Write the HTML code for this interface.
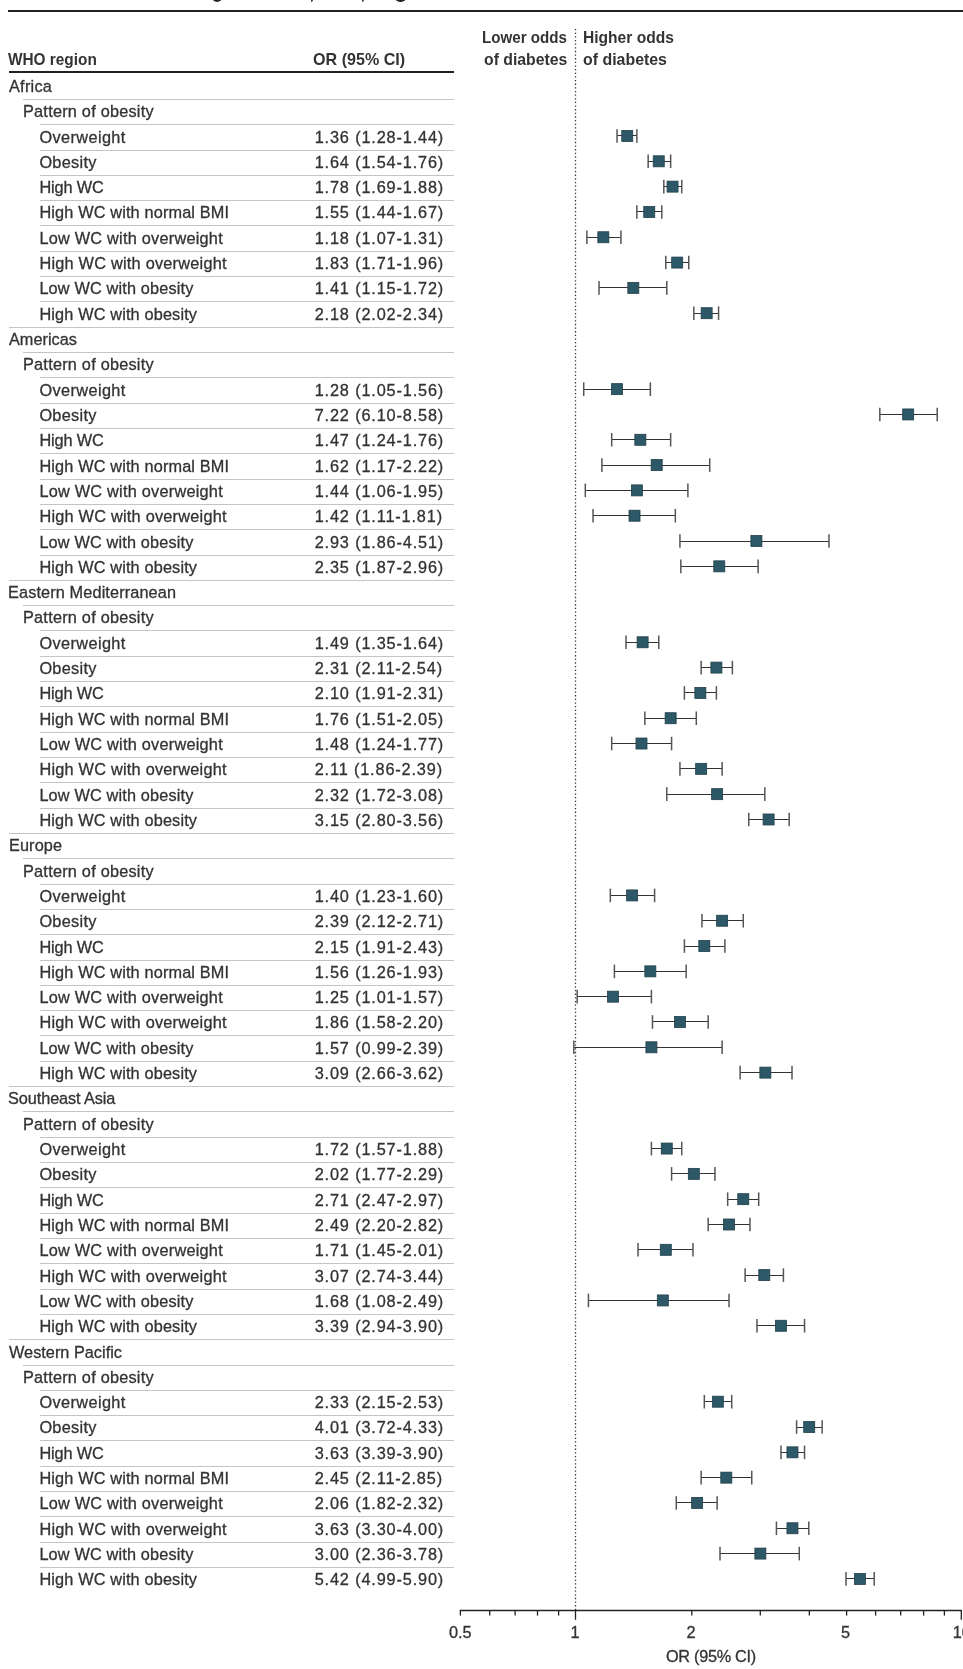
<!DOCTYPE html>
<html><head><meta charset="utf-8"><style>
html,body{margin:0;padding:0;background:#fff;}
body{width:963px;height:1669px;position:relative;overflow:hidden;will-change:transform;font-family:"Liberation Sans",sans-serif;color:#333;}
.t{position:absolute;white-space:nowrap;-webkit-text-stroke:0.3px #333;font-size:16.30px;line-height:20px;height:20px;}
.b{font-weight:bold;-webkit-text-stroke:0;}
.n{letter-spacing:0.85px;}
.l{position:absolute;height:1px;background:#c4c4c4;}
</style></head><body>

<div style="position:absolute;left:8px;top:10.4px;width:955px;height:1.6px;background:#222"></div>
<div style="position:absolute;left:212px;top:-3px;width:10px;height:5.2px;border:2.2px solid #222;border-top:none;border-radius:0 0 6px 6px;box-sizing:border-box"></div>
<div style="position:absolute;left:311px;top:0px;width:2px;height:1.6px;background:#444;border-radius:0 0 2px 0"></div>
<div style="position:absolute;left:362px;top:0px;width:2px;height:1.6px;background:#444;border-radius:0 0 2px 0"></div>
<div style="position:absolute;left:395px;top:-3px;width:10.5px;height:4.8px;border:2.2px solid #222;border-top:none;border-radius:0 0 6px 6px;box-sizing:border-box"></div>
<div class="t b" style="left:8.00px;top:49.30px;transform:scaleX(0.944);transform-origin:0 0">WHO region</div>
<div class="t b" style="left:313.00px;top:49.30px;transform:scaleX(0.989);transform-origin:0 0">OR (95% CI)</div>
<div class="t b" style="left:482.00px;top:27.10px;transform:scaleX(0.930);transform-origin:0 0">Lower odds</div>
<div class="t b" style="left:484.00px;top:48.80px;transform:scaleX(0.970);transform-origin:0 0">of diabetes</div>
<div class="t b" style="left:583.00px;top:27.10px;transform:scaleX(0.957);transform-origin:0 0">Higher odds</div>
<div class="t b" style="left:583.00px;top:48.80px;transform:scaleX(0.977);transform-origin:0 0">of diabetes</div>
<div style="position:absolute;left:9px;top:71px;width:445px;height:1.7px;background:#222"></div>
<div class="t " style="left:9.00px;top:75.90px;letter-spacing:0.25px">Africa</div>
<div class="l" style="left:23px;width:431px;top:98.90px"></div>
<div class="t " style="left:23.00px;top:101.21px;letter-spacing:0.23px">Pattern of obesity</div>
<div class="l" style="left:40px;width:414px;top:124.21px"></div>
<div class="t " style="left:39.40px;top:126.53px;letter-spacing:0.40px">Overweight</div>
<div class="t n" style="left:314.70px;top:126.53px;">1.36 (1.28-1.44)</div>
<div class="l" style="left:40px;width:414px;top:149.53px"></div>
<div class="t " style="left:39.40px;top:151.84px;letter-spacing:0.30px">Obesity</div>
<div class="t n" style="left:314.70px;top:151.84px;">1.64 (1.54-1.76)</div>
<div class="l" style="left:40px;width:414px;top:174.84px"></div>
<div class="t " style="left:39.40px;top:177.15px;letter-spacing:-0.13px">High WC</div>
<div class="t n" style="left:314.70px;top:177.15px;">1.78 (1.69-1.88)</div>
<div class="l" style="left:40px;width:414px;top:200.15px"></div>
<div class="t " style="left:39.40px;top:202.47px;letter-spacing:0.15px">High WC with normal BMI</div>
<div class="t n" style="left:314.70px;top:202.47px;">1.55 (1.44-1.67)</div>
<div class="l" style="left:40px;width:414px;top:225.47px"></div>
<div class="t " style="left:39.40px;top:227.78px;letter-spacing:0.24px">Low WC with overweight</div>
<div class="t n" style="left:314.70px;top:227.78px;">1.18 (1.07-1.31)</div>
<div class="l" style="left:40px;width:414px;top:250.78px"></div>
<div class="t " style="left:39.40px;top:253.09px;letter-spacing:0.24px">High WC with overweight</div>
<div class="t n" style="left:314.70px;top:253.09px;">1.83 (1.71-1.96)</div>
<div class="l" style="left:40px;width:414px;top:276.09px"></div>
<div class="t " style="left:39.40px;top:278.40px;letter-spacing:0.16px">Low WC with obesity</div>
<div class="t n" style="left:314.70px;top:278.40px;">1.41 (1.15-1.72)</div>
<div class="l" style="left:40px;width:414px;top:301.40px"></div>
<div class="t " style="left:39.40px;top:303.72px;letter-spacing:0.15px">High WC with obesity</div>
<div class="t n" style="left:314.70px;top:303.72px;">2.18 (2.02-2.34)</div>
<div class="l" style="left:9px;width:445px;top:326.72px"></div>
<div class="t " style="left:9.00px;top:329.03px;letter-spacing:0.00px">Americas</div>
<div class="l" style="left:23px;width:431px;top:352.03px"></div>
<div class="t " style="left:23.00px;top:354.34px;letter-spacing:0.23px">Pattern of obesity</div>
<div class="l" style="left:40px;width:414px;top:377.34px"></div>
<div class="t " style="left:39.40px;top:379.66px;letter-spacing:0.40px">Overweight</div>
<div class="t n" style="left:314.70px;top:379.66px;">1.28 (1.05-1.56)</div>
<div class="l" style="left:40px;width:414px;top:402.66px"></div>
<div class="t " style="left:39.40px;top:404.97px;letter-spacing:0.30px">Obesity</div>
<div class="t n" style="left:314.70px;top:404.97px;">7.22 (6.10-8.58)</div>
<div class="l" style="left:40px;width:414px;top:427.97px"></div>
<div class="t " style="left:39.40px;top:430.28px;letter-spacing:-0.13px">High WC</div>
<div class="t n" style="left:314.70px;top:430.28px;">1.47 (1.24-1.76)</div>
<div class="l" style="left:40px;width:414px;top:453.28px"></div>
<div class="t " style="left:39.40px;top:455.60px;letter-spacing:0.15px">High WC with normal BMI</div>
<div class="t n" style="left:314.70px;top:455.60px;">1.62 (1.17-2.22)</div>
<div class="l" style="left:40px;width:414px;top:478.60px"></div>
<div class="t " style="left:39.40px;top:480.91px;letter-spacing:0.24px">Low WC with overweight</div>
<div class="t n" style="left:314.70px;top:480.91px;">1.44 (1.06-1.95)</div>
<div class="l" style="left:40px;width:414px;top:503.91px"></div>
<div class="t " style="left:39.40px;top:506.22px;letter-spacing:0.24px">High WC with overweight</div>
<div class="t n" style="left:314.70px;top:506.22px;">1.42 (1.11-1.81)</div>
<div class="l" style="left:40px;width:414px;top:529.22px"></div>
<div class="t " style="left:39.40px;top:531.53px;letter-spacing:0.16px">Low WC with obesity</div>
<div class="t n" style="left:314.70px;top:531.53px;">2.93 (1.86-4.51)</div>
<div class="l" style="left:40px;width:414px;top:554.53px"></div>
<div class="t " style="left:39.40px;top:556.85px;letter-spacing:0.15px">High WC with obesity</div>
<div class="t n" style="left:314.70px;top:556.85px;">2.35 (1.87-2.96)</div>
<div class="l" style="left:9px;width:445px;top:579.85px"></div>
<div class="t " style="left:8.00px;top:582.16px;letter-spacing:0.12px">Eastern Mediterranean</div>
<div class="l" style="left:23px;width:431px;top:605.16px"></div>
<div class="t " style="left:23.00px;top:607.47px;letter-spacing:0.23px">Pattern of obesity</div>
<div class="l" style="left:40px;width:414px;top:630.47px"></div>
<div class="t " style="left:39.40px;top:632.79px;letter-spacing:0.40px">Overweight</div>
<div class="t n" style="left:314.70px;top:632.79px;">1.49 (1.35-1.64)</div>
<div class="l" style="left:40px;width:414px;top:655.79px"></div>
<div class="t " style="left:39.40px;top:658.10px;letter-spacing:0.30px">Obesity</div>
<div class="t n" style="left:314.70px;top:658.10px;">2.31 (2.11-2.54)</div>
<div class="l" style="left:40px;width:414px;top:681.10px"></div>
<div class="t " style="left:39.40px;top:683.41px;letter-spacing:-0.13px">High WC</div>
<div class="t n" style="left:314.70px;top:683.41px;">2.10 (1.91-2.31)</div>
<div class="l" style="left:40px;width:414px;top:706.41px"></div>
<div class="t " style="left:39.40px;top:708.72px;letter-spacing:0.15px">High WC with normal BMI</div>
<div class="t n" style="left:314.70px;top:708.72px;">1.76 (1.51-2.05)</div>
<div class="l" style="left:40px;width:414px;top:731.72px"></div>
<div class="t " style="left:39.40px;top:734.04px;letter-spacing:0.24px">Low WC with overweight</div>
<div class="t n" style="left:314.70px;top:734.04px;">1.48 (1.24-1.77)</div>
<div class="l" style="left:40px;width:414px;top:757.04px"></div>
<div class="t " style="left:39.40px;top:759.35px;letter-spacing:0.24px">High WC with overweight</div>
<div class="t n" style="left:314.70px;top:759.35px;">2.11 (1.86-2.39)</div>
<div class="l" style="left:40px;width:414px;top:782.35px"></div>
<div class="t " style="left:39.40px;top:784.66px;letter-spacing:0.16px">Low WC with obesity</div>
<div class="t n" style="left:314.70px;top:784.66px;">2.32 (1.72-3.08)</div>
<div class="l" style="left:40px;width:414px;top:807.66px"></div>
<div class="t " style="left:39.40px;top:809.98px;letter-spacing:0.15px">High WC with obesity</div>
<div class="t n" style="left:314.70px;top:809.98px;">3.15 (2.80-3.56)</div>
<div class="l" style="left:9px;width:445px;top:832.98px"></div>
<div class="t " style="left:9.00px;top:835.29px;letter-spacing:0.10px">Europe</div>
<div class="l" style="left:23px;width:431px;top:858.29px"></div>
<div class="t " style="left:23.00px;top:860.60px;letter-spacing:0.23px">Pattern of obesity</div>
<div class="l" style="left:40px;width:414px;top:883.60px"></div>
<div class="t " style="left:39.40px;top:885.92px;letter-spacing:0.40px">Overweight</div>
<div class="t n" style="left:314.70px;top:885.92px;">1.40 (1.23-1.60)</div>
<div class="l" style="left:40px;width:414px;top:908.92px"></div>
<div class="t " style="left:39.40px;top:911.23px;letter-spacing:0.30px">Obesity</div>
<div class="t n" style="left:314.70px;top:911.23px;">2.39 (2.12-2.71)</div>
<div class="l" style="left:40px;width:414px;top:934.23px"></div>
<div class="t " style="left:39.40px;top:936.54px;letter-spacing:-0.13px">High WC</div>
<div class="t n" style="left:314.70px;top:936.54px;">2.15 (1.91-2.43)</div>
<div class="l" style="left:40px;width:414px;top:959.54px"></div>
<div class="t " style="left:39.40px;top:961.85px;letter-spacing:0.15px">High WC with normal BMI</div>
<div class="t n" style="left:314.70px;top:961.85px;">1.56 (1.26-1.93)</div>
<div class="l" style="left:40px;width:414px;top:984.85px"></div>
<div class="t " style="left:39.40px;top:987.17px;letter-spacing:0.24px">Low WC with overweight</div>
<div class="t n" style="left:314.70px;top:987.17px;">1.25 (1.01-1.57)</div>
<div class="l" style="left:40px;width:414px;top:1010.17px"></div>
<div class="t " style="left:39.40px;top:1012.48px;letter-spacing:0.24px">High WC with overweight</div>
<div class="t n" style="left:314.70px;top:1012.48px;">1.86 (1.58-2.20)</div>
<div class="l" style="left:40px;width:414px;top:1035.48px"></div>
<div class="t " style="left:39.40px;top:1037.79px;letter-spacing:0.16px">Low WC with obesity</div>
<div class="t n" style="left:314.70px;top:1037.79px;">1.57 (0.99-2.39)</div>
<div class="l" style="left:40px;width:414px;top:1060.79px"></div>
<div class="t " style="left:39.40px;top:1063.11px;letter-spacing:0.15px">High WC with obesity</div>
<div class="t n" style="left:314.70px;top:1063.11px;">3.09 (2.66-3.62)</div>
<div class="l" style="left:9px;width:445px;top:1086.11px"></div>
<div class="t " style="left:8.10px;top:1088.42px;letter-spacing:-0.10px">Southeast Asia</div>
<div class="l" style="left:23px;width:431px;top:1111.42px"></div>
<div class="t " style="left:23.00px;top:1113.73px;letter-spacing:0.23px">Pattern of obesity</div>
<div class="l" style="left:40px;width:414px;top:1136.73px"></div>
<div class="t " style="left:39.40px;top:1139.05px;letter-spacing:0.40px">Overweight</div>
<div class="t n" style="left:314.70px;top:1139.05px;">1.72 (1.57-1.88)</div>
<div class="l" style="left:40px;width:414px;top:1162.05px"></div>
<div class="t " style="left:39.40px;top:1164.36px;letter-spacing:0.30px">Obesity</div>
<div class="t n" style="left:314.70px;top:1164.36px;">2.02 (1.77-2.29)</div>
<div class="l" style="left:40px;width:414px;top:1187.36px"></div>
<div class="t " style="left:39.40px;top:1189.67px;letter-spacing:-0.13px">High WC</div>
<div class="t n" style="left:314.70px;top:1189.67px;">2.71 (2.47-2.97)</div>
<div class="l" style="left:40px;width:414px;top:1212.67px"></div>
<div class="t " style="left:39.40px;top:1214.99px;letter-spacing:0.15px">High WC with normal BMI</div>
<div class="t n" style="left:314.70px;top:1214.99px;">2.49 (2.20-2.82)</div>
<div class="l" style="left:40px;width:414px;top:1237.99px"></div>
<div class="t " style="left:39.40px;top:1240.30px;letter-spacing:0.24px">Low WC with overweight</div>
<div class="t n" style="left:314.70px;top:1240.30px;">1.71 (1.45-2.01)</div>
<div class="l" style="left:40px;width:414px;top:1263.30px"></div>
<div class="t " style="left:39.40px;top:1265.61px;letter-spacing:0.24px">High WC with overweight</div>
<div class="t n" style="left:314.70px;top:1265.61px;">3.07 (2.74-3.44)</div>
<div class="l" style="left:40px;width:414px;top:1288.61px"></div>
<div class="t " style="left:39.40px;top:1290.92px;letter-spacing:0.16px">Low WC with obesity</div>
<div class="t n" style="left:314.70px;top:1290.92px;">1.68 (1.08-2.49)</div>
<div class="l" style="left:40px;width:414px;top:1313.92px"></div>
<div class="t " style="left:39.40px;top:1316.24px;letter-spacing:0.15px">High WC with obesity</div>
<div class="t n" style="left:314.70px;top:1316.24px;">3.39 (2.94-3.90)</div>
<div class="l" style="left:9px;width:445px;top:1339.24px"></div>
<div class="t " style="left:9.00px;top:1341.55px;letter-spacing:0.01px">Western Pacific</div>
<div class="l" style="left:23px;width:431px;top:1364.55px"></div>
<div class="t " style="left:23.00px;top:1366.86px;letter-spacing:0.23px">Pattern of obesity</div>
<div class="l" style="left:40px;width:414px;top:1389.86px"></div>
<div class="t " style="left:39.40px;top:1392.18px;letter-spacing:0.40px">Overweight</div>
<div class="t n" style="left:314.70px;top:1392.18px;">2.33 (2.15-2.53)</div>
<div class="l" style="left:40px;width:414px;top:1415.18px"></div>
<div class="t " style="left:39.40px;top:1417.49px;letter-spacing:0.30px">Obesity</div>
<div class="t n" style="left:314.70px;top:1417.49px;">4.01 (3.72-4.33)</div>
<div class="l" style="left:40px;width:414px;top:1440.49px"></div>
<div class="t " style="left:39.40px;top:1442.80px;letter-spacing:-0.13px">High WC</div>
<div class="t n" style="left:314.70px;top:1442.80px;">3.63 (3.39-3.90)</div>
<div class="l" style="left:40px;width:414px;top:1465.80px"></div>
<div class="t " style="left:39.40px;top:1468.12px;letter-spacing:0.15px">High WC with normal BMI</div>
<div class="t n" style="left:314.70px;top:1468.12px;">2.45 (2.11-2.85)</div>
<div class="l" style="left:40px;width:414px;top:1491.12px"></div>
<div class="t " style="left:39.40px;top:1493.43px;letter-spacing:0.24px">Low WC with overweight</div>
<div class="t n" style="left:314.70px;top:1493.43px;">2.06 (1.82-2.32)</div>
<div class="l" style="left:40px;width:414px;top:1516.43px"></div>
<div class="t " style="left:39.40px;top:1518.74px;letter-spacing:0.24px">High WC with overweight</div>
<div class="t n" style="left:314.70px;top:1518.74px;">3.63 (3.30-4.00)</div>
<div class="l" style="left:40px;width:414px;top:1541.74px"></div>
<div class="t " style="left:39.40px;top:1544.05px;letter-spacing:0.16px">Low WC with obesity</div>
<div class="t n" style="left:314.70px;top:1544.05px;">3.00 (2.36-3.78)</div>
<div class="l" style="left:40px;width:414px;top:1567.05px"></div>
<div class="t " style="left:39.40px;top:1569.37px;letter-spacing:0.15px">High WC with obesity</div>
<div class="t n" style="left:314.70px;top:1569.37px;">5.42 (4.99-5.90)</div>
<svg style="position:absolute;left:0;top:0" width="963" height="1669"><line x1="575.5" y1="29" x2="575.5" y2="1610" stroke="#333" stroke-width="1.3" stroke-dasharray="1.3 2.34"/><line x1="459.8" y1="1610.5" x2="962" y2="1610.5" stroke="#222" stroke-width="1.3"/><line x1="460.40" y1="1610" x2="460.40" y2="1615.60" stroke="#222" stroke-width="1.3"/><line x1="489.70" y1="1610" x2="489.70" y2="1615.60" stroke="#222" stroke-width="1.3"/><line x1="515.10" y1="1610" x2="515.10" y2="1615.60" stroke="#222" stroke-width="1.3"/><line x1="537.50" y1="1610" x2="537.50" y2="1615.60" stroke="#222" stroke-width="1.3"/><line x1="558.60" y1="1610" x2="558.60" y2="1615.60" stroke="#222" stroke-width="1.3"/><line x1="575.50" y1="1610" x2="575.50" y2="1619.80" stroke="#222" stroke-width="1.3"/><line x1="691.80" y1="1610" x2="691.80" y2="1615.60" stroke="#222" stroke-width="1.3"/><line x1="760.30" y1="1610" x2="760.30" y2="1615.60" stroke="#222" stroke-width="1.3"/><line x1="809.30" y1="1610" x2="809.30" y2="1615.60" stroke="#222" stroke-width="1.3"/><line x1="846.60" y1="1610" x2="846.60" y2="1615.60" stroke="#222" stroke-width="1.3"/><line x1="875.60" y1="1610" x2="875.60" y2="1615.60" stroke="#222" stroke-width="1.3"/><line x1="900.70" y1="1610" x2="900.70" y2="1615.60" stroke="#222" stroke-width="1.3"/><line x1="923.60" y1="1610" x2="923.60" y2="1615.60" stroke="#222" stroke-width="1.3"/><line x1="944.40" y1="1610" x2="944.40" y2="1615.60" stroke="#222" stroke-width="1.3"/><line x1="961.30" y1="1610" x2="961.30" y2="1619.80" stroke="#222" stroke-width="1.3"/><line x1="617.04" y1="135.50" x2="636.87" y2="135.50" stroke="#333" stroke-width="1"/><line x1="617.04" y1="129.20" x2="617.04" y2="142.80" stroke="#555" stroke-width="1.5"/><line x1="636.87" y1="129.20" x2="636.87" y2="142.80" stroke="#555" stroke-width="1.5"/><rect x="621.75" y="130.50" width="11" height="11" fill="#2c5868" stroke="#213f49" stroke-width="0.8"/><line x1="648.16" y1="161.50" x2="670.64" y2="161.50" stroke="#333" stroke-width="1"/><line x1="648.16" y1="154.51" x2="648.16" y2="168.11" stroke="#555" stroke-width="1.5"/><line x1="670.64" y1="154.51" x2="670.64" y2="168.11" stroke="#555" stroke-width="1.5"/><rect x="653.25" y="155.81" width="11" height="11" fill="#2c5868" stroke="#213f49" stroke-width="0.8"/><line x1="663.81" y1="186.50" x2="681.74" y2="186.50" stroke="#333" stroke-width="1"/><line x1="663.81" y1="179.83" x2="663.81" y2="193.43" stroke="#555" stroke-width="1.5"/><line x1="681.74" y1="179.83" x2="681.74" y2="193.43" stroke="#555" stroke-width="1.5"/><rect x="667.04" y="181.13" width="11" height="11" fill="#2c5868" stroke="#213f49" stroke-width="0.8"/><line x1="636.87" y1="211.50" x2="661.80" y2="211.50" stroke="#333" stroke-width="1"/><line x1="636.87" y1="205.14" x2="636.87" y2="218.74" stroke="#555" stroke-width="1.5"/><line x1="661.80" y1="205.14" x2="661.80" y2="218.74" stroke="#555" stroke-width="1.5"/><rect x="643.75" y="206.44" width="11" height="11" fill="#2c5868" stroke="#213f49" stroke-width="0.8"/><line x1="586.89" y1="237.50" x2="620.94" y2="237.50" stroke="#333" stroke-width="1"/><line x1="586.89" y1="230.45" x2="586.89" y2="244.05" stroke="#555" stroke-width="1.5"/><line x1="620.94" y1="230.45" x2="620.94" y2="244.05" stroke="#555" stroke-width="1.5"/><rect x="597.85" y="231.75" width="11" height="11" fill="#2c5868" stroke="#213f49" stroke-width="0.8"/><line x1="665.79" y1="262.50" x2="688.75" y2="262.50" stroke="#333" stroke-width="1"/><line x1="665.79" y1="255.77" x2="665.79" y2="269.37" stroke="#555" stroke-width="1.5"/><line x1="688.75" y1="255.77" x2="688.75" y2="269.37" stroke="#555" stroke-width="1.5"/><rect x="671.70" y="257.07" width="11" height="11" fill="#2c5868" stroke="#213f49" stroke-width="0.8"/><line x1="599.02" y1="287.50" x2="666.77" y2="287.50" stroke="#333" stroke-width="1"/><line x1="599.02" y1="281.08" x2="599.02" y2="294.68" stroke="#555" stroke-width="1.5"/><line x1="666.77" y1="281.08" x2="666.77" y2="294.68" stroke="#555" stroke-width="1.5"/><rect x="627.82" y="282.38" width="11" height="11" fill="#2c5868" stroke="#213f49" stroke-width="0.8"/><line x1="693.82" y1="313.50" x2="718.57" y2="313.50" stroke="#333" stroke-width="1"/><line x1="693.82" y1="306.40" x2="693.82" y2="320.00" stroke="#555" stroke-width="1.5"/><line x1="718.57" y1="306.40" x2="718.57" y2="320.00" stroke="#555" stroke-width="1.5"/><rect x="701.15" y="307.70" width="11" height="11" fill="#2c5868" stroke="#213f49" stroke-width="0.8"/><line x1="583.71" y1="389.50" x2="650.34" y2="389.50" stroke="#333" stroke-width="1"/><line x1="583.71" y1="382.34" x2="583.71" y2="395.94" stroke="#555" stroke-width="1.5"/><line x1="650.34" y1="382.34" x2="650.34" y2="395.94" stroke="#555" stroke-width="1.5"/><rect x="611.54" y="383.64" width="11" height="11" fill="#2c5868" stroke="#213f49" stroke-width="0.8"/><line x1="879.82" y1="414.50" x2="937.23" y2="414.50" stroke="#333" stroke-width="1"/><line x1="879.82" y1="407.65" x2="879.82" y2="421.25" stroke="#555" stroke-width="1.5"/><line x1="937.23" y1="407.65" x2="937.23" y2="421.25" stroke="#555" stroke-width="1.5"/><rect x="902.68" y="408.95" width="11" height="11" fill="#2c5868" stroke="#213f49" stroke-width="0.8"/><line x1="611.70" y1="439.50" x2="670.64" y2="439.50" stroke="#333" stroke-width="1"/><line x1="611.70" y1="432.97" x2="611.70" y2="446.57" stroke="#555" stroke-width="1.5"/><line x1="670.64" y1="432.97" x2="670.64" y2="446.57" stroke="#555" stroke-width="1.5"/><rect x="634.84" y="434.27" width="11" height="11" fill="#2c5868" stroke="#213f49" stroke-width="0.8"/><line x1="601.92" y1="465.50" x2="709.71" y2="465.50" stroke="#333" stroke-width="1"/><line x1="601.92" y1="458.28" x2="601.92" y2="471.88" stroke="#555" stroke-width="1.5"/><line x1="709.71" y1="458.28" x2="709.71" y2="471.88" stroke="#555" stroke-width="1.5"/><rect x="651.19" y="459.58" width="11" height="11" fill="#2c5868" stroke="#213f49" stroke-width="0.8"/><line x1="585.31" y1="490.50" x2="687.89" y2="490.50" stroke="#333" stroke-width="1"/><line x1="585.31" y1="483.59" x2="585.31" y2="497.19" stroke="#555" stroke-width="1.5"/><line x1="687.89" y1="483.59" x2="687.89" y2="497.19" stroke="#555" stroke-width="1.5"/><rect x="631.37" y="484.89" width="11" height="11" fill="#2c5868" stroke="#213f49" stroke-width="0.8"/><line x1="593.06" y1="515.50" x2="675.35" y2="515.50" stroke="#333" stroke-width="1"/><line x1="593.06" y1="508.91" x2="593.06" y2="522.51" stroke="#555" stroke-width="1.5"/><line x1="675.35" y1="508.91" x2="675.35" y2="522.51" stroke="#555" stroke-width="1.5"/><rect x="629.01" y="510.21" width="11" height="11" fill="#2c5868" stroke="#213f49" stroke-width="0.8"/><line x1="679.94" y1="541.50" x2="828.99" y2="541.50" stroke="#333" stroke-width="1"/><line x1="679.94" y1="534.22" x2="679.94" y2="547.82" stroke="#555" stroke-width="1.5"/><line x1="828.99" y1="534.22" x2="828.99" y2="547.82" stroke="#555" stroke-width="1.5"/><rect x="750.91" y="535.52" width="11" height="11" fill="#2c5868" stroke="#213f49" stroke-width="0.8"/><line x1="680.84" y1="566.50" x2="758.13" y2="566.50" stroke="#333" stroke-width="1"/><line x1="680.84" y1="559.54" x2="680.84" y2="573.14" stroke="#555" stroke-width="1.5"/><line x1="758.13" y1="559.54" x2="758.13" y2="573.14" stroke="#555" stroke-width="1.5"/><rect x="713.79" y="560.84" width="11" height="11" fill="#2c5868" stroke="#213f49" stroke-width="0.8"/><line x1="626.00" y1="642.50" x2="658.75" y2="642.50" stroke="#333" stroke-width="1"/><line x1="626.00" y1="635.48" x2="626.00" y2="649.08" stroke="#555" stroke-width="1.5"/><line x1="658.75" y1="635.48" x2="658.75" y2="649.08" stroke="#555" stroke-width="1.5"/><rect x="637.11" y="636.78" width="11" height="11" fill="#2c5868" stroke="#213f49" stroke-width="0.8"/><line x1="701.16" y1="667.50" x2="732.37" y2="667.50" stroke="#333" stroke-width="1"/><line x1="701.16" y1="660.79" x2="701.16" y2="674.39" stroke="#555" stroke-width="1.5"/><line x1="732.37" y1="660.79" x2="732.37" y2="674.39" stroke="#555" stroke-width="1.5"/><rect x="710.90" y="662.09" width="11" height="11" fill="#2c5868" stroke="#213f49" stroke-width="0.8"/><line x1="684.40" y1="692.50" x2="716.40" y2="692.50" stroke="#333" stroke-width="1"/><line x1="684.40" y1="686.11" x2="684.40" y2="699.71" stroke="#555" stroke-width="1.5"/><line x1="716.40" y1="686.11" x2="716.40" y2="699.71" stroke="#555" stroke-width="1.5"/><rect x="694.86" y="687.41" width="11" height="11" fill="#2c5868" stroke="#213f49" stroke-width="0.8"/><line x1="644.85" y1="718.50" x2="696.30" y2="718.50" stroke="#333" stroke-width="1"/><line x1="644.85" y1="711.42" x2="644.85" y2="725.02" stroke="#555" stroke-width="1.5"/><line x1="696.30" y1="711.42" x2="696.30" y2="725.02" stroke="#555" stroke-width="1.5"/><rect x="665.14" y="712.72" width="11" height="11" fill="#2c5868" stroke="#213f49" stroke-width="0.8"/><line x1="611.70" y1="743.50" x2="671.59" y2="743.50" stroke="#333" stroke-width="1"/><line x1="611.70" y1="736.73" x2="611.70" y2="750.33" stroke="#555" stroke-width="1.5"/><line x1="671.59" y1="736.73" x2="671.59" y2="750.33" stroke="#555" stroke-width="1.5"/><rect x="635.98" y="738.03" width="11" height="11" fill="#2c5868" stroke="#213f49" stroke-width="0.8"/><line x1="679.94" y1="768.50" x2="722.13" y2="768.50" stroke="#333" stroke-width="1"/><line x1="679.94" y1="762.05" x2="679.94" y2="775.65" stroke="#555" stroke-width="1.5"/><line x1="722.13" y1="762.05" x2="722.13" y2="775.65" stroke="#555" stroke-width="1.5"/><rect x="695.66" y="763.35" width="11" height="11" fill="#2c5868" stroke="#213f49" stroke-width="0.8"/><line x1="666.77" y1="794.50" x2="764.81" y2="794.50" stroke="#333" stroke-width="1"/><line x1="666.77" y1="787.36" x2="666.77" y2="800.96" stroke="#555" stroke-width="1.5"/><line x1="764.81" y1="787.36" x2="764.81" y2="800.96" stroke="#555" stroke-width="1.5"/><rect x="711.63" y="788.66" width="11" height="11" fill="#2c5868" stroke="#213f49" stroke-width="0.8"/><line x1="748.77" y1="819.50" x2="789.19" y2="819.50" stroke="#333" stroke-width="1"/><line x1="748.77" y1="812.68" x2="748.77" y2="826.28" stroke="#555" stroke-width="1.5"/><line x1="789.19" y1="812.68" x2="789.19" y2="826.28" stroke="#555" stroke-width="1.5"/><rect x="763.10" y="813.98" width="11" height="11" fill="#2c5868" stroke="#213f49" stroke-width="0.8"/><line x1="610.34" y1="895.50" x2="654.60" y2="895.50" stroke="#333" stroke-width="1"/><line x1="610.34" y1="888.62" x2="610.34" y2="902.22" stroke="#555" stroke-width="1.5"/><line x1="654.60" y1="888.62" x2="654.60" y2="902.22" stroke="#555" stroke-width="1.5"/><rect x="626.62" y="889.92" width="11" height="11" fill="#2c5868" stroke="#213f49" stroke-width="0.8"/><line x1="701.96" y1="920.50" x2="743.28" y2="920.50" stroke="#333" stroke-width="1"/><line x1="701.96" y1="913.93" x2="701.96" y2="927.53" stroke="#555" stroke-width="1.5"/><line x1="743.28" y1="913.93" x2="743.28" y2="927.53" stroke="#555" stroke-width="1.5"/><rect x="716.63" y="915.23" width="11" height="11" fill="#2c5868" stroke="#213f49" stroke-width="0.8"/><line x1="684.40" y1="946.50" x2="724.92" y2="946.50" stroke="#333" stroke-width="1"/><line x1="684.40" y1="939.25" x2="684.40" y2="952.85" stroke="#555" stroke-width="1.5"/><line x1="724.92" y1="939.25" x2="724.92" y2="952.85" stroke="#555" stroke-width="1.5"/><rect x="698.82" y="940.55" width="11" height="11" fill="#2c5868" stroke="#213f49" stroke-width="0.8"/><line x1="614.39" y1="971.50" x2="686.15" y2="971.50" stroke="#333" stroke-width="1"/><line x1="614.39" y1="964.56" x2="614.39" y2="978.16" stroke="#555" stroke-width="1.5"/><line x1="686.15" y1="964.56" x2="686.15" y2="978.16" stroke="#555" stroke-width="1.5"/><rect x="644.84" y="965.86" width="11" height="11" fill="#2c5868" stroke="#213f49" stroke-width="0.8"/><line x1="577.17" y1="996.50" x2="651.41" y2="996.50" stroke="#333" stroke-width="1"/><line x1="577.17" y1="989.87" x2="577.17" y2="1003.47" stroke="#555" stroke-width="1.5"/><line x1="651.41" y1="989.87" x2="651.41" y2="1003.47" stroke="#555" stroke-width="1.5"/><rect x="607.55" y="991.17" width="11" height="11" fill="#2c5868" stroke="#213f49" stroke-width="0.8"/><line x1="652.48" y1="1021.50" x2="708.19" y2="1021.50" stroke="#333" stroke-width="1"/><line x1="652.48" y1="1015.19" x2="652.48" y2="1028.79" stroke="#555" stroke-width="1.5"/><line x1="708.19" y1="1015.19" x2="708.19" y2="1028.79" stroke="#555" stroke-width="1.5"/><rect x="674.44" y="1016.49" width="11" height="11" fill="#2c5868" stroke="#213f49" stroke-width="0.8"/><line x1="573.81" y1="1047.50" x2="722.13" y2="1047.50" stroke="#333" stroke-width="1"/><line x1="573.81" y1="1040.50" x2="573.81" y2="1054.10" stroke="#555" stroke-width="1.5"/><line x1="722.13" y1="1040.50" x2="722.13" y2="1054.10" stroke="#555" stroke-width="1.5"/><rect x="645.91" y="1041.80" width="11" height="11" fill="#2c5868" stroke="#213f49" stroke-width="0.8"/><line x1="740.14" y1="1072.50" x2="792.00" y2="1072.50" stroke="#333" stroke-width="1"/><line x1="740.14" y1="1065.82" x2="740.14" y2="1079.42" stroke="#555" stroke-width="1.5"/><line x1="792.00" y1="1065.82" x2="792.00" y2="1079.42" stroke="#555" stroke-width="1.5"/><rect x="759.86" y="1067.12" width="11" height="11" fill="#2c5868" stroke="#213f49" stroke-width="0.8"/><line x1="651.41" y1="1148.50" x2="681.74" y2="1148.50" stroke="#333" stroke-width="1"/><line x1="651.41" y1="1141.76" x2="651.41" y2="1155.36" stroke="#555" stroke-width="1.5"/><line x1="681.74" y1="1141.76" x2="681.74" y2="1155.36" stroke="#555" stroke-width="1.5"/><rect x="661.27" y="1143.06" width="11" height="11" fill="#2c5868" stroke="#213f49" stroke-width="0.8"/><line x1="671.59" y1="1173.50" x2="714.94" y2="1173.50" stroke="#333" stroke-width="1"/><line x1="671.59" y1="1167.07" x2="671.59" y2="1180.67" stroke="#555" stroke-width="1.5"/><line x1="714.94" y1="1167.07" x2="714.94" y2="1180.67" stroke="#555" stroke-width="1.5"/><rect x="688.32" y="1168.37" width="11" height="11" fill="#2c5868" stroke="#213f49" stroke-width="0.8"/><line x1="727.67" y1="1199.50" x2="758.69" y2="1199.50" stroke="#333" stroke-width="1"/><line x1="727.67" y1="1192.39" x2="727.67" y2="1205.99" stroke="#555" stroke-width="1.5"/><line x1="758.69" y1="1192.39" x2="758.69" y2="1205.99" stroke="#555" stroke-width="1.5"/><rect x="737.78" y="1193.69" width="11" height="11" fill="#2c5868" stroke="#213f49" stroke-width="0.8"/><line x1="708.19" y1="1224.50" x2="749.97" y2="1224.50" stroke="#333" stroke-width="1"/><line x1="708.19" y1="1217.70" x2="708.19" y2="1231.30" stroke="#555" stroke-width="1.5"/><line x1="749.97" y1="1217.70" x2="749.97" y2="1231.30" stroke="#555" stroke-width="1.5"/><rect x="723.53" y="1219.00" width="11" height="11" fill="#2c5868" stroke="#213f49" stroke-width="0.8"/><line x1="638.03" y1="1249.50" x2="692.99" y2="1249.50" stroke="#333" stroke-width="1"/><line x1="638.03" y1="1243.01" x2="638.03" y2="1256.61" stroke="#555" stroke-width="1.5"/><line x1="692.99" y1="1243.01" x2="692.99" y2="1256.61" stroke="#555" stroke-width="1.5"/><rect x="660.29" y="1244.31" width="11" height="11" fill="#2c5868" stroke="#213f49" stroke-width="0.8"/><line x1="745.13" y1="1275.50" x2="783.42" y2="1275.50" stroke="#333" stroke-width="1"/><line x1="745.13" y1="1268.33" x2="745.13" y2="1281.93" stroke="#555" stroke-width="1.5"/><line x1="783.42" y1="1268.33" x2="783.42" y2="1281.93" stroke="#555" stroke-width="1.5"/><rect x="758.77" y="1269.63" width="11" height="11" fill="#2c5868" stroke="#213f49" stroke-width="0.8"/><line x1="588.45" y1="1300.50" x2="729.03" y2="1300.50" stroke="#333" stroke-width="1"/><line x1="588.45" y1="1293.64" x2="588.45" y2="1307.24" stroke="#555" stroke-width="1.5"/><line x1="729.03" y1="1293.64" x2="729.03" y2="1307.24" stroke="#555" stroke-width="1.5"/><rect x="657.31" y="1294.94" width="11" height="11" fill="#2c5868" stroke="#213f49" stroke-width="0.8"/><line x1="756.98" y1="1325.50" x2="804.54" y2="1325.50" stroke="#333" stroke-width="1"/><line x1="756.98" y1="1318.96" x2="756.98" y2="1332.56" stroke="#555" stroke-width="1.5"/><line x1="804.54" y1="1318.96" x2="804.54" y2="1332.56" stroke="#555" stroke-width="1.5"/><rect x="775.45" y="1320.26" width="11" height="11" fill="#2c5868" stroke="#213f49" stroke-width="0.8"/><line x1="704.32" y1="1401.50" x2="731.71" y2="1401.50" stroke="#333" stroke-width="1"/><line x1="704.32" y1="1394.90" x2="704.32" y2="1408.50" stroke="#555" stroke-width="1.5"/><line x1="731.71" y1="1394.90" x2="731.71" y2="1408.50" stroke="#555" stroke-width="1.5"/><rect x="712.35" y="1396.20" width="11" height="11" fill="#2c5868" stroke="#213f49" stroke-width="0.8"/><line x1="796.59" y1="1427.50" x2="822.14" y2="1427.50" stroke="#333" stroke-width="1"/><line x1="796.59" y1="1420.21" x2="796.59" y2="1433.81" stroke="#555" stroke-width="1.5"/><line x1="822.14" y1="1420.21" x2="822.14" y2="1433.81" stroke="#555" stroke-width="1.5"/><rect x="803.72" y="1421.51" width="11" height="11" fill="#2c5868" stroke="#213f49" stroke-width="0.8"/><line x1="780.95" y1="1452.50" x2="804.54" y2="1452.50" stroke="#333" stroke-width="1"/><line x1="780.95" y1="1445.53" x2="780.95" y2="1459.13" stroke="#555" stroke-width="1.5"/><line x1="804.54" y1="1445.53" x2="804.54" y2="1459.13" stroke="#555" stroke-width="1.5"/><rect x="786.96" y="1446.83" width="11" height="11" fill="#2c5868" stroke="#213f49" stroke-width="0.8"/><line x1="701.16" y1="1477.50" x2="751.75" y2="1477.50" stroke="#333" stroke-width="1"/><line x1="701.16" y1="1470.84" x2="701.16" y2="1484.44" stroke="#555" stroke-width="1.5"/><line x1="751.75" y1="1470.84" x2="751.75" y2="1484.44" stroke="#555" stroke-width="1.5"/><rect x="720.80" y="1472.14" width="11" height="11" fill="#2c5868" stroke="#213f49" stroke-width="0.8"/><line x1="676.28" y1="1502.50" x2="717.13" y2="1502.50" stroke="#333" stroke-width="1"/><line x1="676.28" y1="1496.15" x2="676.28" y2="1509.75" stroke="#555" stroke-width="1.5"/><line x1="717.13" y1="1496.15" x2="717.13" y2="1509.75" stroke="#555" stroke-width="1.5"/><rect x="691.62" y="1497.45" width="11" height="11" fill="#2c5868" stroke="#213f49" stroke-width="0.8"/><line x1="776.42" y1="1528.50" x2="808.80" y2="1528.50" stroke="#333" stroke-width="1"/><line x1="776.42" y1="1521.47" x2="776.42" y2="1535.07" stroke="#555" stroke-width="1.5"/><line x1="808.80" y1="1521.47" x2="808.80" y2="1535.07" stroke="#555" stroke-width="1.5"/><rect x="786.96" y="1522.77" width="11" height="11" fill="#2c5868" stroke="#213f49" stroke-width="0.8"/><line x1="720.00" y1="1553.50" x2="799.28" y2="1553.50" stroke="#333" stroke-width="1"/><line x1="720.00" y1="1546.78" x2="720.00" y2="1560.38" stroke="#555" stroke-width="1.5"/><line x1="799.28" y1="1546.78" x2="799.28" y2="1560.38" stroke="#555" stroke-width="1.5"/><rect x="754.88" y="1548.08" width="11" height="11" fill="#2c5868" stroke="#213f49" stroke-width="0.8"/><line x1="846.01" y1="1578.50" x2="874.21" y2="1578.50" stroke="#333" stroke-width="1"/><line x1="846.01" y1="1572.10" x2="846.01" y2="1585.70" stroke="#555" stroke-width="1.5"/><line x1="874.21" y1="1572.10" x2="874.21" y2="1585.70" stroke="#555" stroke-width="1.5"/><rect x="854.42" y="1573.40" width="11" height="11" fill="#2c5868" stroke="#213f49" stroke-width="0.8"/></svg>
<div class="t " style="left:449.00px;top:1622.20px;">0.5</div>
<div class="t " style="left:570.50px;top:1622.20px;">1</div>
<div class="t " style="left:686.50px;top:1622.20px;">2</div>
<div class="t " style="left:841.00px;top:1622.20px;">5</div>
<div class="t " style="left:952.80px;top:1622.20px;">10</div>
<div class="t " style="left:666.00px;top:1645.50px;letter-spacing:-0.3px">OR (95% CI)</div>
</body></html>
